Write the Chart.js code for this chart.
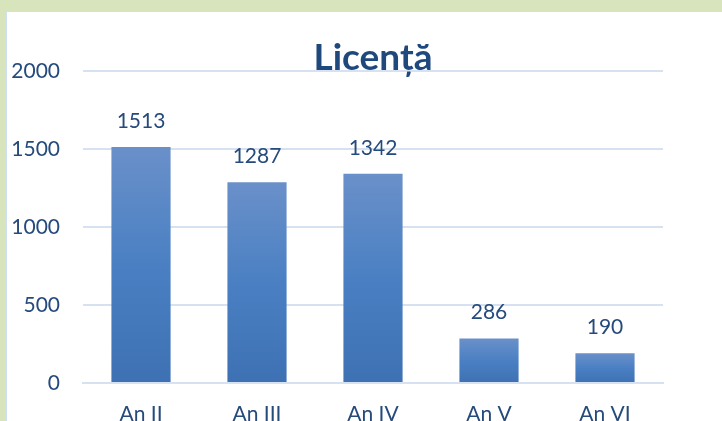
<!DOCTYPE html>
<html>
<head>
<meta charset="utf-8">
<script src="https://cdn.jsdelivr.net/npm/chart.js@4/dist/chart.umd.min.js"></script>
<style>
  html, body { margin: 0; padding: 0; }
  body { width: 722px; height: 421px; background: #d8e4bc; overflow: hidden; position: relative; }
  #wrap { position: absolute; left: 6px; top: 11px; width: 716px; height: 410px; background: #ffffff; border-left: 1px solid #cfe0f3; border-top: 1px solid #cfe0f3; }
  canvas { display: block; }
</style>
</head>
<body>
<div id="wrap"><canvas id="c" width="716" height="410"></canvas></div>
<script>
const categories = ["An II", "An III", "An IV", "An V", "An VI"];
const values = [1513, 1287, 1342, 286, 190];
const yTicks = [0, 500, 1000, 1500, 2000];
const titleText = "Licență";

const textColor = "#254a7c";
const FONT = "Lato, 'Open Sans', sans-serif";

const valueLabels = {
  id: "valueLabels",
  afterDatasetsDraw(chart) {
    const ctx = chart.ctx;
    const meta = chart.getDatasetMeta(0);
    ctx.save();
    ctx.fillStyle = textColor;
    ctx.font = "21px " + FONT;
    ctx.textAlign = "center";
    ctx.textBaseline = "alphabetic";
    meta.data.forEach((bar, i) => {
      ctx.fillText(String(values[i]), bar.x, bar.y - 19);
    });
    ctx.restore();
  }
};

const centeredTitle = {
  id: "centeredTitle",
  afterDraw(chart) {
    const ctx = chart.ctx;
    const a = chart.chartArea;
    ctx.save();
    ctx.fillStyle = "#1f497d";
    ctx.font = "bold 37px " + FONT;
    ctx.textAlign = "center";
    ctx.textBaseline = "alphabetic";
    ctx.fillText(titleText, (a.left + a.right) / 2, a.top - 1);
    ctx.restore();
  }
};

function barGradient(context) {
  const chart = context.chart;
  const y = chart.scales.y;
  if (!y || context.parsed === undefined) return "#4f81bd";
  const top = y.getPixelForValue(context.parsed.y);
  const bottom = y.getPixelForValue(0);
  if (!isFinite(top) || !isFinite(bottom) || top === bottom) return "#4f81bd";
  const g = chart.ctx.createLinearGradient(0, top, 0, bottom);
  g.addColorStop(0, "#6a90c9");
  g.addColorStop(0.5, "#4a80c3");
  g.addColorStop(1, "#3d71b4");
  return g;
}

new Chart(document.getElementById("c"), {
  type: "bar",
  data: {
    labels: categories,
    datasets: [{
      data: values,
      backgroundColor: barGradient,
      borderWidth: 0,
      barPercentage: 0.51,
      categoryPercentage: 1.0
    }]
  },
  plugins: [valueLabels, centeredTitle],
  options: {
    responsive: false,
    animation: false,
    events: [],
    layout: { padding: { left: 0, right: 60, top: 59, bottom: 0 } },
    plugins: {
      legend: { display: false },
      tooltip: { enabled: false },
      title: { display: false }
    },
    scales: {
      x: {
        grid: { display: false, drawTicks: false },
        border: { display: true, color: "#d6e2f2", width: 2 },
        ticks: { color: textColor, font: { family: FONT, size: 21 }, padding: 19 },
        afterFit(scale) { scale.height = 39; }
      },
      y: {
        min: 0,
        max: 2000,
        afterBuildTicks(scale) { scale.ticks = yTicks.map(v => ({ value: v })); },
        grid: { color: "#d6e2f2", lineWidth: 2, drawTicks: false },
        border: { display: false },
        ticks: {
          color: textColor,
          font: { family: FONT, size: 21 },
          padding: 23,
          callback: (v) => String(v)
        },
        afterFit(scale) { scale.width = 76; }
      }
    }
  }
});
</script>
</body>
</html>
